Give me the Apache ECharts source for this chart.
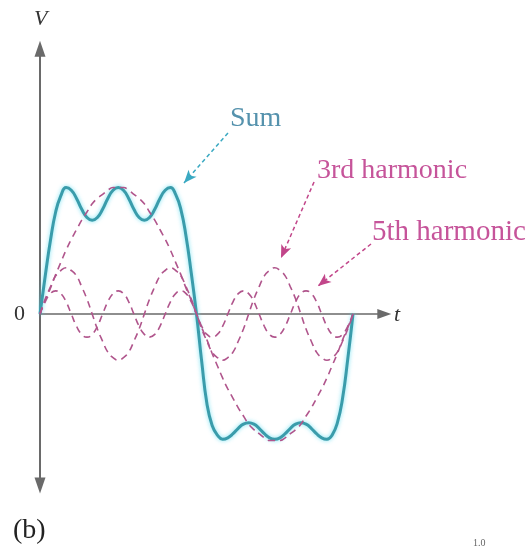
<!DOCTYPE html>
<html>
<head>
<meta charset="utf-8">
<script src="https://cdn.jsdelivr.net/npm/echarts@6/dist/echarts.min.js"></script>
<style>
  html, body { margin: 0; padding: 0; background: #fff; }
  #chart { width: 531px; height: 547px; }
</style>
</head>
<body>
<div id="chart"></div>
<script>
// Phase over one period, in degrees
const phaseDeg = [0, 6, 12, 18, 24, 30, 36, 42, 48, 54, 60, 66, 72, 78, 84, 90, 96, 102, 108, 114, 120,
  126, 132, 138, 144, 150, 156, 162, 168, 174, 180, 186, 192, 198, 204, 210, 216, 222, 228, 234, 240,
  246, 252, 258, 264, 270, 276, 282, 288, 294, 300, 306, 312, 318, 324, 330, 336, 342, 348, 354, 360];

// Fundamental sine wave
const fundamental = [0, .10, .19, .29, .38, .47, .55, .62, .69, .75, .81, .85, .88, .91, .93, .93,
  .93, .91, .88, .85, .81, .75, .69, .62, .55, .47, .38, .29, .19, .10, 0,
  -.10, -.19, -.29, -.38, -.47, -.55, -.62, -.69, -.75, -.81, -.85, -.88, -.91, -.93, -.93,
  -.93, -.91, -.88, -.85, -.81, -.75, -.69, -.62, -.55, -.47, -.38, -.29, -.19, -.10, 0];

// 3rd harmonic
const thirdHarmonic = [0, .11, .20, .28, .32, .34, .32, .28, .20, .11, 0,
  -.11, -.20, -.28, -.32, -.34, -.32, -.28, -.20, -.11, 0,
  .11, .20, .28, .32, .34, .32, .28, .20, .11, 0,
  -.11, -.20, -.28, -.32, -.34, -.32, -.28, -.20, -.11, 0,
  .11, .20, .28, .32, .34, .32, .28, .20, .11, 0,
  -.11, -.20, -.28, -.32, -.34, -.32, -.28, -.20, -.11, 0];

// 5th harmonic
const fifthHarmonic = [0, .09, .15, .17, .15, .09, 0, -.09, -.15, -.17, -.15, -.09,
  0, .09, .15, .17, .15, .09, 0, -.09, -.15, -.17, -.15, -.09,
  0, .09, .15, .17, .15, .09, 0, -.09, -.15, -.17, -.15, -.09,
  0, .09, .15, .17, .15, .09, 0, -.09, -.15, -.17, -.15, -.09,
  0, .09, .15, .17, .15, .09, 0, -.09, -.15, -.17, -.15, -.09, 0];

// Sum of the three components
const sumWave = [0, .28, .54, .75, .87, .93, .91, .85, .77, .71, .69, .71, .77, .85, .91, .93,
  .91, .85, .77, .71, .69, .71, .77, .85, .91, .93, .88, .77, .57, .30, 0,
  -.35, -.66, -.82, -.89, -.92, -.91, -.88, -.84, -.81, -.80, -.81, -.84, -.88, -.91, -.92,
  -.91, -.88, -.84, -.81, -.80, -.81, -.84, -.88, -.91, -.92, -.89, -.80, -.62, -.33, 0];

const toPoints = ys => phaseDeg.map((x, i) => [x, ys[i]]);

const AXIS = '#6a6a6a';
const SERIF = '"Liberation Serif", "Times New Roman", serif';
const SUM_COLOR = '#3a9cab';
const HARM_COLOR = '#b0558c';
const HARM_TEXT = '#c6549a';

const dashed = { color: HARM_COLOR, width: 1.6, type: [7, 5] };

function pointer(from, to, color) {
  return {
    silent: true,
    symbol: ['none', 'arrow'],
    symbolSize: [8, 13],
    label: { show: false },
    emphasis: { disabled: true },
    lineStyle: { color: color, width: 1.5, type: [4, 3] },
    data: [[{ coord: from }, { coord: to }]]
  };
}

const chart = echarts.init(document.getElementById('chart'), null, { renderer: 'canvas' });

chart.setOption({
  animation: false,
  backgroundColor: '#ffffff',
  grid: { left: 40, top: 48.8, width: 344.3, height: 436.6 },
  xAxis: {
    type: 'value', min: 0, max: 396,
    axisLine: {
      onZero: true,
      symbol: ['none', 'triangle'], symbolSize: [10, 14],
      lineStyle: { color: AXIS, width: 1.5 }
    },
    axisTick: { show: false }, axisLabel: { show: false }, splitLine: { show: false }
  },
  yAxis: {
    type: 'value', min: -1.26, max: 1.95,
    axisLine: {
      show: true, onZero: false,
      symbol: ['triangle', 'triangle'], symbolSize: [11, 16],
      lineStyle: { color: AXIS, width: 2 }
    },
    axisTick: { show: false }, axisLabel: { show: false }, splitLine: { show: false }
  },
  series: [
    {
      name: 'Sum', type: 'line', data: toPoints(sumWave), smooth: 0.5,
      showSymbol: false, z: 2,
      lineStyle: { color: SUM_COLOR, width: 3, shadowColor: 'rgba(90,220,240,0.8)', shadowBlur: 4 },
      markLine: pointer([216.2, 1.331], [165.6, 0.963], '#3aa9c2')
    },
    {
      name: 'Fundamental', type: 'line', data: toPoints(fundamental), smooth: 0.5,
      showSymbol: false, z: 3, lineStyle: dashed
    },
    {
      name: '3rd harmonic', type: 'line', data: toPoints(thirdHarmonic), smooth: 0.5,
      showSymbol: false, z: 3, lineStyle: dashed,
      markLine: pointer([315.2, 0.971], [277.2, 0.412], '#c2468a')
    },
    {
      name: '5th harmonic', type: 'line', data: toPoints(fifthHarmonic), smooth: 0.5,
      showSymbol: false, z: 3, lineStyle: dashed,
      markLine: pointer([380.7, 0.515], [319.8, 0.206], '#c2468a')
    }
  ],
  graphic: [
    { type: 'text', style: { text: 'V', x: 34, y: 19.5, font: 'italic 22px ' + SERIF, fill: '#333', textVerticalAlign: 'middle' } },
    { type: 'text', style: { text: 't', x: 394, y: 315.5, font: 'italic 22px ' + SERIF, fill: '#333', textVerticalAlign: 'middle' } },
    { type: 'text', style: { text: '0', x: 14, y: 314.5, font: '22px ' + SERIF, fill: '#333', textVerticalAlign: 'middle' } },
    { type: 'text', style: { text: 'Sum', x: 230, y: 118.5, font: '28px ' + SERIF, fill: '#5592ad', textVerticalAlign: 'middle' } },
    { type: 'text', style: { text: '3rd harmonic', x: 317, y: 170.5, font: '28px ' + SERIF, fill: HARM_TEXT, textVerticalAlign: 'middle' } },
    { type: 'text', style: { text: '5th harmonic', x: 372, y: 232.5, font: '29px ' + SERIF, fill: HARM_TEXT, textVerticalAlign: 'middle' } },
    { type: 'text', style: { text: '(b)', x: 13, y: 530.5, font: '28px ' + SERIF, fill: '#222', textVerticalAlign: 'middle' } },
    { type: 'text', style: { text: '1.0', x: 473, y: 543.5, font: '10px ' + SERIF, fill: '#666', textVerticalAlign: 'middle' } }
  ]
});
</script>
</body>
</html>
